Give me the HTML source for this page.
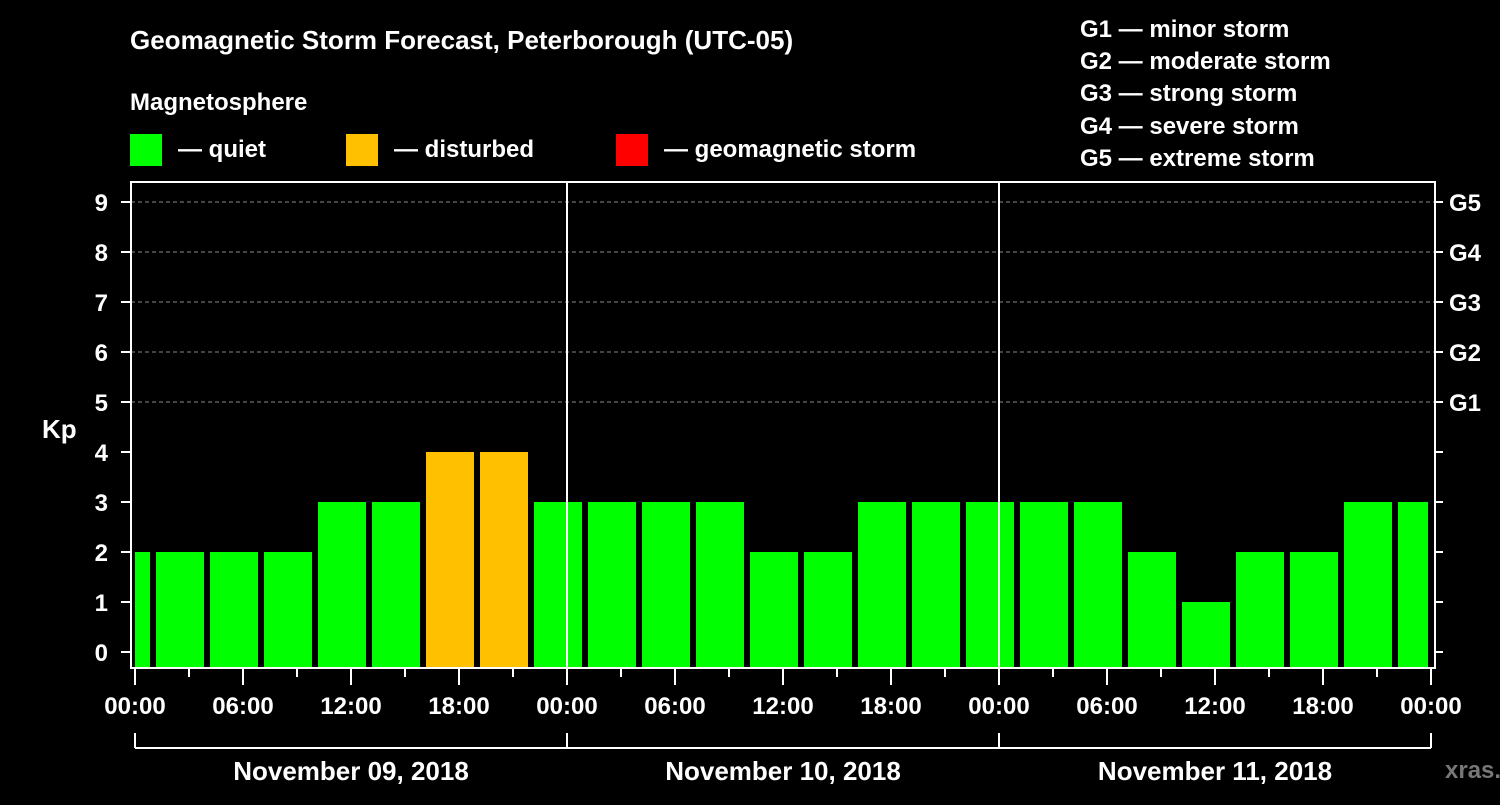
<!DOCTYPE html>
<html><head><meta charset="utf-8"><style>
body{margin:0;background:#000;width:1500px;height:800px;overflow:hidden}
svg text{font-family:"Liberation Sans",sans-serif;font-weight:bold;fill:#fff}
</style></head><body>
<svg id="c" width="1500" height="800">
<text x="130" y="49" font-size="26">Geomagnetic Storm Forecast, Peterborough (UTC-05)</text>
<text x="130" y="110" font-size="24">Magnetosphere</text>
<rect x="130" y="134" width="32" height="32" fill="#00ff00"/>
<text x="178" y="157" font-size="24">— quiet</text>
<rect x="346" y="134" width="32" height="32" fill="#ffc000"/>
<text x="394" y="157" font-size="24">— disturbed</text>
<rect x="616" y="134" width="32" height="32" fill="#ff0000"/>
<text x="664" y="157" font-size="24">— geomagnetic storm</text>
<g font-size="24">
<text x="1080" y="37">G1 — minor storm</text>
<text x="1080" y="69">G2 — moderate storm</text>
<text x="1080" y="101">G3 — strong storm</text>
<text x="1080" y="134">G4 — severe storm</text>
<text x="1080" y="166">G5 — extreme storm</text>
</g>
<text x="42" y="438" font-size="26">Kp</text>
<text x="1445" y="778" font-size="24" style="fill:#777">xras.ru</text>
<g id="plot"></g>
</svg>
<script>
const kpValues=[2,2,2,2,3,3,4,4,3,3,3,3,2,2,3,3,3,3,3,2,1,2,2,3,3];
const blockStartHours=[-2,1,4,7,10,13,16,19,22,25,28,31,34,37,40,43,46,49,52,55,58,61,64,67,70];
const yTicks=[0,1,2,3,4,5,6,7,8,9];
const gLabels=["G1","G2","G3","G4","G5"];
const xTickLabels=["00:00","06:00","12:00","18:00","00:00","06:00","12:00","18:00","00:00","06:00","12:00","18:00","00:00"];
const dayLabels=["November 09, 2018","November 10, 2018","November 11, 2018"];
const NS="http://www.w3.org/2000/svg";
const L=131,R=1435,T=182,B=668,X0=135,HP=18;
const x=h=>X0+h*HP, y=v=>652-v*50;
const g=document.getElementById('plot');
function mk(t,a,txt){const e=document.createElementNS(NS,t);for(const k in a)e.setAttribute(k,a[k]);if(txt!==undefined)e.textContent=txt;g.appendChild(e);return e;}
for(let v=5;v<=9;v++){const e=mk('line',{x1:L,x2:R,y1:y(v),y2:y(v),stroke:'#888','stroke-dasharray':'4,3','stroke-width':1});

}
kpValues.forEach((v,i)=>{const s=Math.max(blockStartHours[i],0),en=Math.min(blockStartHours[i]+3,72);
let x1=x(s)+(blockStartHours[i]<0?0:3),x2=x(en)-3;if(en===72)x2=x(72)-3;
const col=v>=5?'#ff0000':v>=4?'#ffc000':'#00ff00';
const r=mk('rect',{x:x1,y:y(v),width:x2-x1,height:B-y(v),fill:col});

});
[1,2].forEach(d=>{const e=mk('line',{x1:x(d*24),x2:x(d*24),y1:T,y2:B,stroke:'#fff','stroke-width':2});

});
const fr=mk('rect',{x:L,y:T,width:R-L,height:B-T,fill:'none',stroke:'#fff','stroke-width':2});


yTicks.forEach(v=>{mk('line',{x1:121,x2:L,y1:y(v),y2:y(v),stroke:'#fff','stroke-width':2});mk('line',{x1:R,x2:1443,y1:y(v),y2:y(v),stroke:'#fff','stroke-width':2});
const t=mk('text',{x:108,y:y(v)+9,'font-size':24,'text-anchor':'end'},String(v));

});
gLabels.forEach((s,i)=>{const t=mk('text',{x:1449,y:y(5+i)+9,'font-size':24},s);

});
for(let h=0;h<=72;h+=3){const maj=h%6===0;mk('line',{x1:x(h),x2:x(h),y1:B,y2:B+(maj?17:9),stroke:'#fff','stroke-width':2});}
xTickLabels.forEach((s,i)=>{const t=mk('text',{x:x(i*6),y:714,'font-size':24,'text-anchor':'middle'},s);

});
mk('line',{x1:x(0),x2:x(72),y1:748,y2:748,stroke:'#fff','stroke-width':2});
for(let d=0;d<=3;d++)mk('line',{x1:x(d*24),x2:x(d*24),y1:733,y2:748,stroke:'#fff','stroke-width':2});
dayLabels.forEach((s,i)=>{const t=mk('text',{x:x(i*24+12),y:780,'font-size':26,'text-anchor':'middle'},s);

});
</script>
</body></html>
